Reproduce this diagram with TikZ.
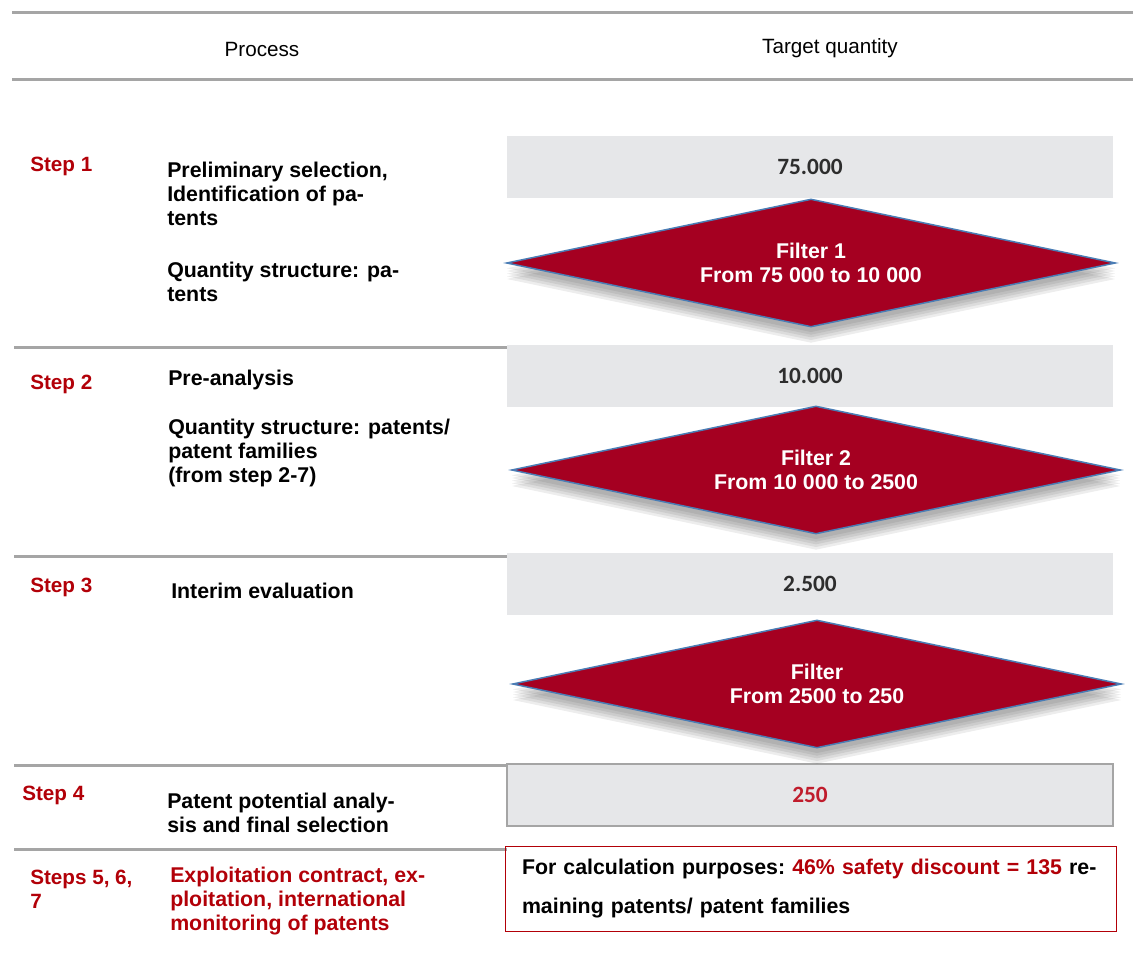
\documentclass[tikz,border=0pt]{standalone}
\usepackage{fontspec}
\setmainfont{Liberation Sans}
\newfontfamily\numfont{Carlito}
\usepackage{tikz}
\usetikzlibrary{shapes.geometric, shadows}
\usepackage{xcolor}
\definecolor{stepred}{RGB}{178,0,8}
\definecolor{filterred}{RGB}{165,0,33}
\definecolor{filterblue}{RGB}{74,125,181}
\definecolor{boxgray}{RGB}{230,231,233}
\definecolor{rulegray}{RGB}{165,165,165}
\definecolor{numdark}{RGB}{45,45,45}
\definecolor{numred}{RGB}{192,28,44}
\newcommand{\pxu}{0.75pt}

\begin{document}
\begin{tikzpicture}[
  x=0.75pt, y=-0.75pt,
  rule/.style={rulegray, line width=3*\pxu},
  head/.style={font=\fontsize{15.5}{18}\selectfont, anchor=base, inner sep=0pt},
  steplbl/.style={font=\fontsize{15.5}{18}\selectfont\bfseries, text=stepred,
                  inner sep=0pt, align=left},
  proc/.style={font=\fontsize{16}{18}\selectfont\bfseries, anchor=north west,
               inner sep=0pt, align=left},
  qty/.style={rectangle, fill=boxgray, minimum width=606*\pxu, minimum height=62*\pxu,
              inner sep=0pt, font=\numfont\fontsize{17.5}{20}\selectfont\bfseries, text=numdark},
  soft/.style={drop shadow={shadow xshift=0pt, shadow yshift=-#1, opacity=0.07, fill=black}},
  filt/.style={diamond, aspect=4.7, fill=filterred, draw=filterblue, line width=1.5*\pxu,
               inner sep=0pt, minimum width=609*\pxu, minimum height=128*\pxu,
               text=white, align=center, font=\fontsize{16}{18}\selectfont\bfseries,
               soft=12pt, soft=10pt, soft=8pt, soft=6pt, soft=4pt},
  calcbox/.style={rectangle, draw=stepred, line width=1*\pxu, minimum width=611*\pxu,
                  minimum height=85*\pxu, text width=577*\pxu, inner xsep=17*\pxu,
                  align=left, font=\fontsize{16}{18}\selectfont\bfseries\frenchspacing},
]
  \useasboundingbox (0,0) rectangle (1133,963);

  % ── Header ──
  \draw[rule] (12,13) -- (1133,13);
  \draw[rule] (12,80) -- (1133,80);
  \node[head] (hproc) at (262,57) {Process};
  \node[head] (hqty) at (830,54) {Target quantity};

  % ── Row separators ──
  \foreach \yy in {348,556,765,849} {
    \draw[rule] (14,\yy) -- (507,\yy);
  }

  % ── Target quantities ──
  \node[qty] (q1) at (810,167) {75.000};
  \node[qty] (q2) at (810,376) {10.000};
  \node[qty] (q3) at (810,584) {2.500};
  \node[qty, draw=rulegray, line width=2*\pxu, text=numred] (q4) at (810,795) {250};

  % ── Filters ──
  \node[filt] (f1) at (811,263) {Filter 1\\From 75 000 to 10 000};
  \node[filt] (f2) at (816,470) {Filter 2\\From 10 000 to 2500};
  \node[filt] (f3) at (817,684) {Filter\\From 2500 to 250};

  % ── Steps ──
  \node[steplbl, anchor=base west] (s1) at (30,172) {Step 1};
  \node[steplbl, anchor=base west] (s2) at (30,389) {Step 2};
  \node[steplbl, anchor=base west] (s3) at (30,592) {Step 3};
  \node[steplbl, anchor=base west] (s4) at (22,800) {Step 4};
  \node[steplbl, anchor=north west] (s5) at (30,870) {Steps 5, 6,\\7};

  % ── Process descriptions ──
  \node[proc] (p1a) at (167,162) {Preliminary selection,\\Identification of pa-\\tents};
  \node[proc] (p1b) at (167,262) {Quantity structure: pa-\\tents};
  \node[proc] (p2a) at (168,370) {Pre-analysis};
  \node[proc] (p2b) at (168,419) {Quantity structure: patents/\\patent families\\(from step 2-7)};
  \node[proc] (p3) at (171,583) {Interim evaluation};
  \node[proc] (p4) at (167,793) {Patent potential analy-\\sis and final selection};
  \node[proc, text=stepred] (p5) at (170,867) {Exploitation contract, ex-\\ploitation, international\\monitoring of patents};

  % ── Calculation note ──
  \node[calcbox] (calc) at (810.5,888.5) {For calculation purposes: \textcolor{stepred}{46\% safety discount = 135} re-\\[11pt]maining patents/ patent families};
\end{tikzpicture}
\end{document}
